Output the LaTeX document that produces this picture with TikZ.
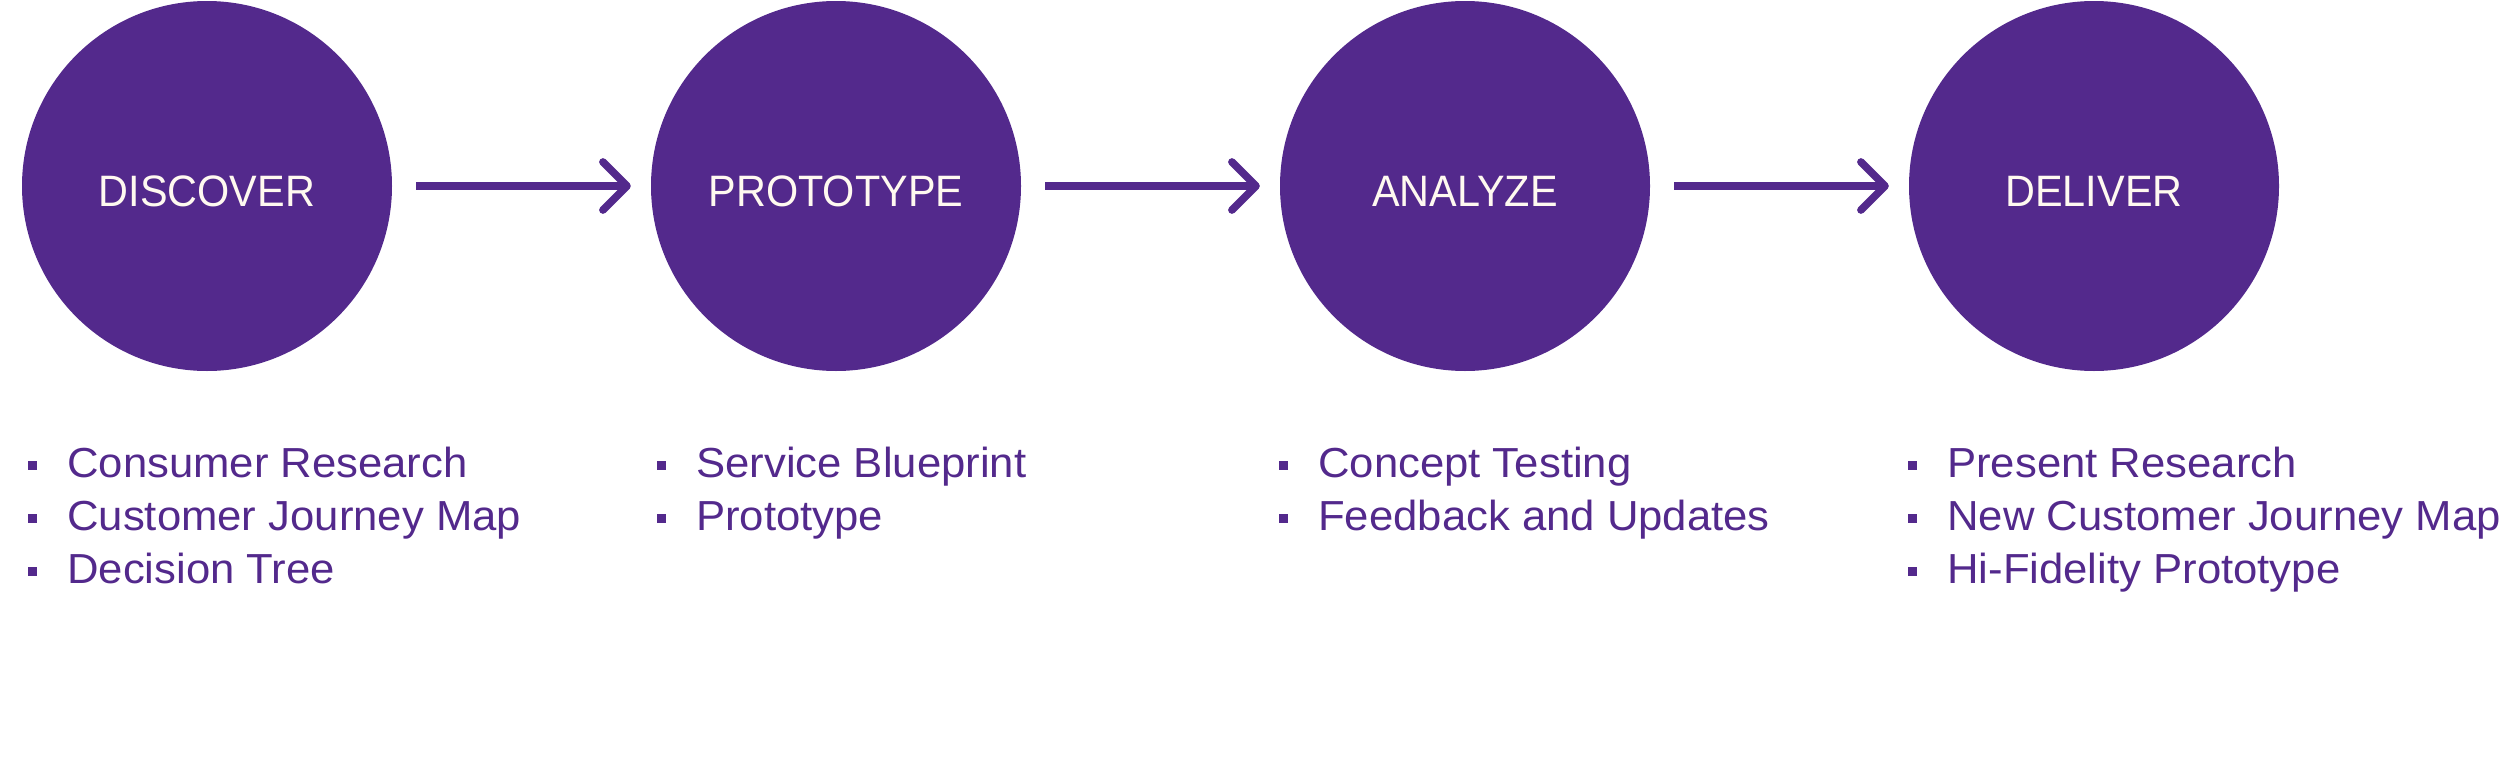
\documentclass[tikz,border=0pt]{standalone}
\usepackage{fontspec}
\setmainfont{Liberation Sans}
\newfontfamily\headfont[FakeStretch=0.94]{Liberation Sans}
\newfontfamily\itemfont[FakeStretch=1.04]{Liberation Sans}
\usetikzlibrary{arrows.meta,calc}
\definecolor{brandpurple}{HTML}{53298C}
\definecolor{cream}{HTML}{FFF9F0}
\tikzset{
  phase/.style={circle, fill=brandpurple, draw=none, minimum size=370pt, inner sep=0pt},
  phasetext/.style={anchor=base, text=cream, font=\headfont\fontsize{44}{53}\selectfont, inner sep=0pt},
  itemtext/.style={anchor=base west, text=brandpurple, font=\itemfont\fontsize{42}{53}\selectfont, inner sep=0pt},
  bulletbox/.style={rectangle, fill=brandpurple, draw=none, minimum size=9pt, inner sep=0pt},
  flow/.style={draw=brandpurple, line width=7.7pt, shorten <=24pt, shorten >=20pt,
    -{Straight Barb[length=24pt, width=48pt, line cap=round, line join=round]}},
}
\begin{document}
\begin{tikzpicture}[x=1pt, y=-1pt]
\useasboundingbox (0,0) rectangle (2500,763);
% circles
\node[phase] (c1) at (207,186) {};
\node[phase] (c2) at (836,186) {};
\node[phase] (c3) at (1465,186) {};
\node[phase] (c4) at (2094,186) {};
% titles
\node[phasetext] (t1) at (207,206) {DISCOVER};
\node[phasetext] (t2) at (836,206) {PROTOTYPE};
\node[phasetext] (t3) at (1465,206) {ANALYZE};
\node[phasetext] (t4) at (2094,206) {DELIVER};
% arrows
\draw[flow] (c1) -- (c2);
\draw[flow] (c2) -- (c3);
\draw[flow] (c3) -- (c4);
% column 1
\node[bulletbox] (b11) at (32,465) {};
\node[itemtext] (i11) at (67,477) {Consumer Research};
\node[bulletbox] (b12) at (32,518) {};
\node[itemtext] (i12) at (67,530) {Customer Journey Map};
\node[bulletbox] (b13) at (32,571) {};
\node[itemtext] (i13) at (67,583) {Decision Tree};
% column 2
\node[bulletbox] (b21) at (661,465) {};
\node[itemtext] (i21) at (696,477) {Service Blueprint};
\node[bulletbox] (b22) at (661,518) {};
\node[itemtext] (i22) at (696,530) {Prototype};
% column 3
\node[bulletbox] (b31) at (1283,465) {};
\node[itemtext] (i31) at (1318,477) {Concept Testing};
\node[bulletbox] (b32) at (1283,518) {};
\node[itemtext] (i32) at (1318,530) {Feedback and Updates};
% column 4
\node[bulletbox] (b41) at (1912,465) {};
\node[itemtext] (i41) at (1947,477) {Present Research};
\node[bulletbox] (b42) at (1912,518) {};
\node[itemtext] (i42) at (1947,530) {New Customer Journey Map};
\node[bulletbox] (b43) at (1912,571) {};
\node[itemtext] (i43) at (1947,583) {Hi-Fidelity Prototype};
\end{tikzpicture}
\end{document}
